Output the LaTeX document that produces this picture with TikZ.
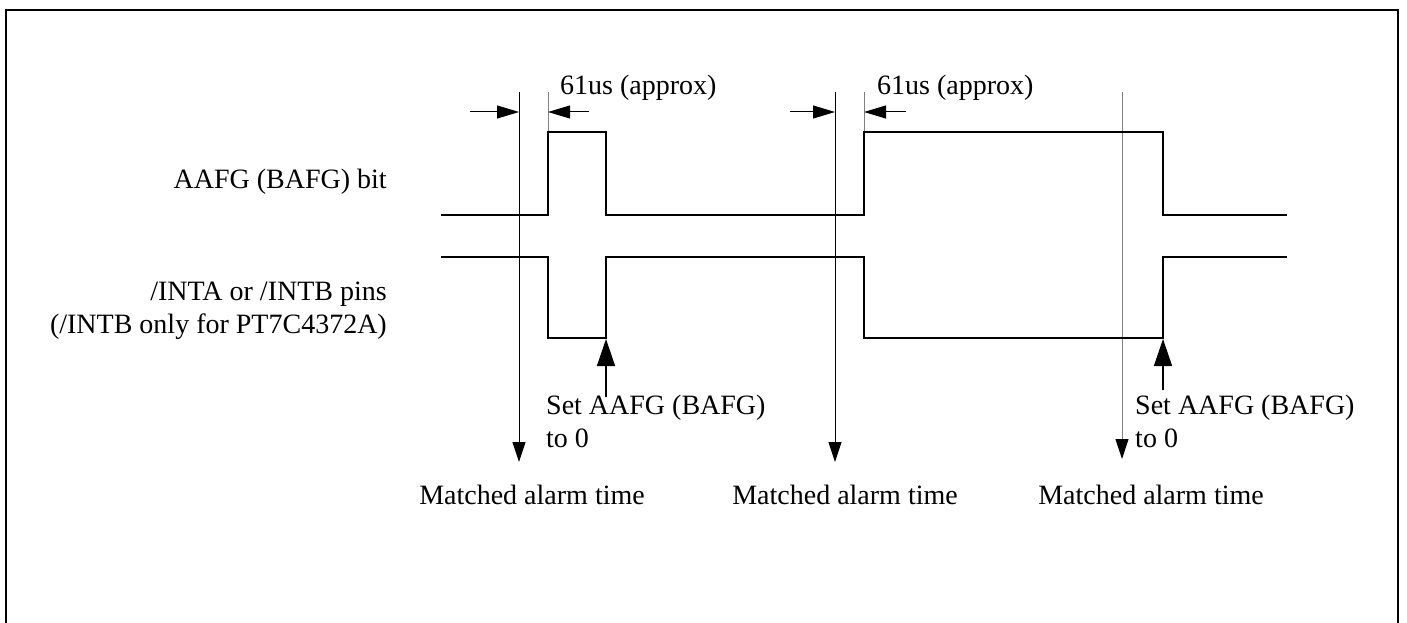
\documentclass[tikz,border=0pt]{standalone}
\usepackage{fontspec}
\setmainfont{Liberation Serif}
\usetikzlibrary{arrows.meta}
\begin{document}
\begin{tikzpicture}[x=1pt,y=-1pt,
  sig/.style={line width=2pt, line join=miter},
  tline/.style={line width=1pt},
  glabel/.style={font=\fontsize{28}{33}\selectfont, inner sep=0pt},
  downarr/.style={-{Triangle[length=20pt,width=13pt,color=black]}},
  uparr/.style={-{Triangle[length=27pt,width=18pt]}, line width=1.5pt},
  dimarr/.style={-{Triangle[length=22pt,width=13pt]}, line width=1pt}]
\useasboundingbox (0,0) rectangle (1407,623);
\draw[line width=2.5pt] (6,623) -- (6,10) -- (1398,10) -- (1398,623);

% labels
\node[glabel, anchor=east] (lA) at (387,182) {AAFG (BAFG) bit};
\node[glabel, anchor=east, align=right] (lI) at (387,311) {/INTA or /INTB pins\\(/INTB only for PT7C4372A)};
\node[glabel, anchor=west] (d1) at (560,88) {61us (approx)};
\node[glabel, anchor=west] (d2) at (877,88) {61us (approx)};
\node[glabel, anchor=west, align=left] (s1) at (546,421) {Set AAFG (BAFG)\\to 0};
\node[glabel, anchor=west, align=left] (s2) at (1135,421) {Set AAFG (BAFG)\\to 0};
\node[glabel] (m1) at (532,495) {Matched alarm time};
\node[glabel] (m2) at (845,495) {Matched alarm time};
\node[glabel] (m3) at (1151,495) {Matched alarm time};

% coordinates
\coordinate (v1t) at (519,92);  \coordinate (v1b) at (519,462);
\coordinate (g1t) at (548,92);  \coordinate (g1b) at (548,132);
\coordinate (v2t) at (835,92);  \coordinate (v2b) at (835,462);
\coordinate (g2t) at (864,92);  \coordinate (g2b) at (864,132);
\coordinate (v3t) at (1122,92); \coordinate (v3b) at (1122,459);

% marker lines
\draw[tline, downarr] (v1t) -- (v1b);
\draw[tline, gray] (g1t) -- (g1b);
\draw[tline, downarr] (v2t) -- (v2b);
\draw[tline, gray] (g2t) -- (g2b);
\draw[tline, draw=gray, downarr] (v3t) -- (v3b);

% dimension arrows
\coordinate (a1s) at (470,112); \coordinate (a1e) at (519,112);
\coordinate (b1s) at (589,112); \coordinate (b1e) at (548,112);
\coordinate (a2s) at (790,112); \coordinate (a2e) at (835,112);
\coordinate (b2s) at (906,112); \coordinate (b2e) at (864,112);
\draw[dimarr] (a1s) -- (a1e);
\draw[dimarr] (b1s) -- (b1e);
\draw[dimarr] (a2s) -- (a2e);
\draw[dimarr] (b2s) -- (b2e);

% signals
\coordinate (A0) at (441,215);
\coordinate (A1) at (548,132);
\coordinate (A2) at (606,215);
\coordinate (A3) at (864,132);
\coordinate (A4) at (1163,215);
\coordinate (A5) at (1287,215);
\draw[sig] (A0) -| (A1) -| (A2) -| (A3) -| (A4) -- (A5);
\coordinate (I0) at (441,257);
\coordinate (I1) at (548,338);
\coordinate (I2) at (606,257);
\coordinate (I3) at (864,338);
\coordinate (I4) at (1163,257);
\coordinate (I5) at (1287,257);
\draw[sig] (I0) -| (I1) -| (I2) -| (I3) -| (I4) -- (I5);

% clear arrows
\coordinate (u1s) at (606,397); \coordinate (u1e) at (606,339);
\coordinate (u2s) at (1163,390); \coordinate (u2e) at (1163,339);
\draw[uparr] (u1s) -- (u1e);
\draw[uparr] (u2s) -- (u2e);
\end{tikzpicture}
\end{document}
